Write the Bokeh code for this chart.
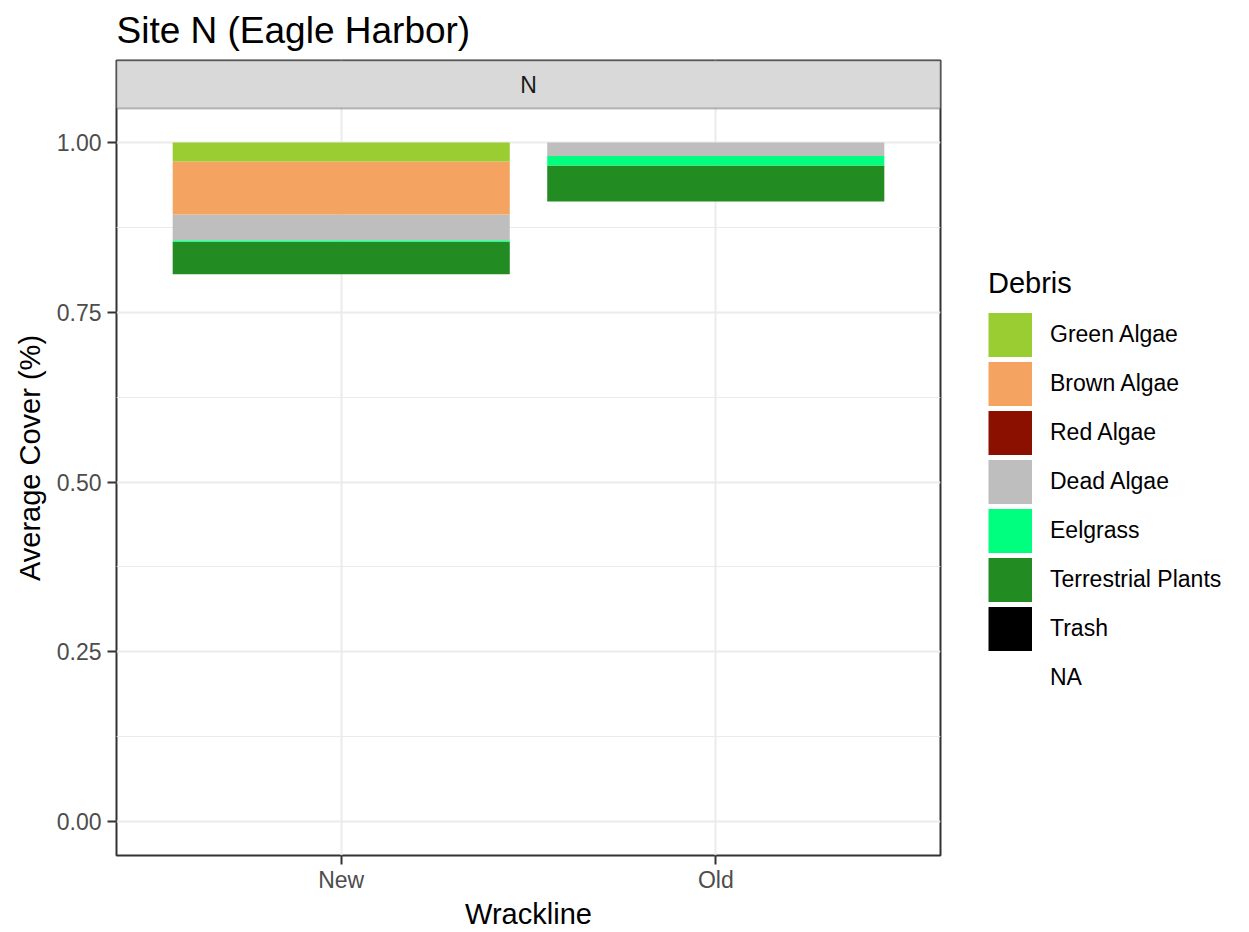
from bokeh.plotting import figure
from bokeh.models import (FactorRange, Range1d, FixedTicker, Legend, LegendItem,
                          BoxAnnotation, Label, ColumnDataSource)
from bokeh.embed import file_html
from bokeh.resources import INLINE

# ---- data ----
wrackline = ["New", "Old"]
debris_legend = ["Green Algae", "Brown Algae", "Red Algae", "Dead Algae",
                 "Eelgrass", "Terrestrial Plants", "Trash", "NA"]
green_algae = [0.028, 0.0]
brown_algae = [0.078, 0.0]
red_algae = [0.0, 0.0]
dead_algae = [0.038, 0.020]
eelgrass = [0.002, 0.014]
terrestrial_plants = [0.048, 0.053]
trash = [0.0, 0.0]
na_cover = [0.806, 0.913]
y_ticks = [0.0, 0.25, 0.5, 0.75, 1.0]
y_minor = [0.125, 0.375, 0.625, 0.875]
y_tick_labels = {0.0: "0.00", 0.25: "0.25", 0.5: "0.50", 0.75: "0.75", 1.0: "1.00"}

colors = {
    "Green Algae": "#9ACD32",
    "Brown Algae": "#F4A460",
    "Red Algae": "#8B1000",
    "Dead Algae": "#BEBEBE",
    "Eelgrass": "#00FF7F",
    "Terrestrial Plants": "#228B22",
    "Trash": "#000000",
    "NA": "#FFFFFF",
}

source = ColumnDataSource(dict(
    wrackline=wrackline,
    **{"NA": na_cover, "Trash": trash, "Terrestrial Plants": terrestrial_plants,
       "Eelgrass": eelgrass, "Dead Algae": dead_algae, "Red Algae": red_algae,
       "Brown Algae": brown_algae, "Green Algae": green_algae}
))

stack_order = ["NA", "Trash", "Terrestrial Plants", "Eelgrass", "Dead Algae",
               "Red Algae", "Brown Algae", "Green Algae"]

FONT = "Liberation Sans"

p = figure(
    x_range=FactorRange(*wrackline, range_padding=0.1, range_padding_units="absolute"),
    y_range=Range1d(-0.05, 1.1208),
    frame_width=824, frame_height=795,
    output_backend="svg", toolbar_location=None,
    min_border_left=116, min_border_top=60, min_border_right=0, min_border_bottom=0,
)

renderers = p.vbar_stack(
    stack_order, x="wrackline", width=0.9, source=source,
    fill_color=[colors[s] for s in stack_order],
    fill_alpha=[0.0 if s == "NA" else 1.0 for s in stack_order],
    line_color=None,
)

# legend key proxies: square keys drawn as thick butt-capped lines (no visible data)
proxies = {}
for name in debris_legend:
    proxies[name] = p.line(x=[wrackline[0]], y=[float("nan")], line_color=colors[name],
                           line_width=44, line_cap="butt",
                           line_alpha=0.0 if name == "NA" else 1.0)

# strip
strip = BoxAnnotation(bottom=1.05, fill_color="#D9D9D9", fill_alpha=1.0,
                      line_color="#333333", line_width=2, level="annotation")
p.add_layout(strip)
p.add_layout(Label(x=1.0, y=1.0854, text="N", text_align="center", text_baseline="middle",
                   text_font=FONT, text_font_size="23px", text_color="#1A1A1A"))

# title
p.title.text = "Site N (Eagle Harbor)"
p.title.text_font = FONT
p.title.text_font_size = "37px"
p.title.text_font_style = "normal"
p.title.text_color = "#000000"
p.title.offset = 0
p.title.standoff = 15
p.title.vertical_align = "top"

# frame
p.background_fill_color = "white"
p.outline_line_color = "#333333"
p.outline_line_width = 2
p.outline_line_alpha = 1.0

# grids
p.xgrid.grid_line_color = "#EBEBEB"
p.xgrid.grid_line_width = 2
p.ygrid.grid_line_color = "#EBEBEB"
p.ygrid.grid_line_width = 2
p.ygrid.minor_grid_line_color = "#EBEBEB"
p.ygrid.minor_grid_line_width = 1

# axes
p.yaxis.ticker = FixedTicker(ticks=y_ticks, minor_ticks=y_minor)
p.yaxis.major_label_overrides = y_tick_labels
for ax in (p.xaxis[0], p.yaxis[0]):
    ax.axis_line_color = None
    ax.major_tick_line_color = "#333333"
    ax.major_tick_line_width = 2
    ax.major_tick_out = 9
    ax.major_tick_in = 0
    ax.minor_tick_line_color = None
    ax.major_label_text_font = FONT
    ax.major_label_text_font_size = "23px"
    ax.major_label_text_color = "#4D4D4D"
    ax.axis_label_text_font = FONT
    ax.axis_label_text_font_size = "29px"
    ax.axis_label_text_font_style = "normal"
    ax.axis_label_text_color = "#000000"
p.xaxis.axis_label = "Wrackline"
p.yaxis.axis_label = "Average Cover (%)"
p.yaxis.major_label_standoff = 6
p.xaxis.major_label_standoff = 2
p.xaxis.axis_label_standoff = 2
p.yaxis.axis_label_standoff = 8

# legend
items = [LegendItem(label=name, renderers=[proxies[name]]) for name in debris_legend]
legend = Legend(
    items=items, title="Debris", location=(48, 153),
    orientation="vertical",
    border_line_color=None, background_fill_alpha=0.0,
    glyph_width=44, glyph_height=49, spacing=0,
    label_standoff=18, label_text_font=FONT, label_text_font_size="23px",
    label_text_color="#000000",
    title_text_font=FONT, title_text_font_size="29px", title_text_font_style="normal",
    title_text_color="#000000", title_standoff=10,
    margin=0, padding=0,
)
p.add_layout(legend, "right")

open("out.html", "w").write(file_html(p, INLINE))
